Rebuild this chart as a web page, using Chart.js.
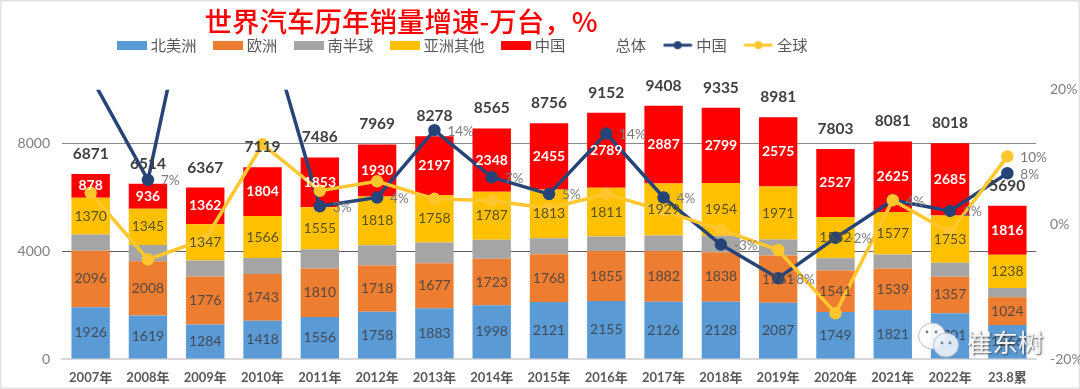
<!DOCTYPE html>
<html><head><meta charset="utf-8">
<style>html,body{margin:0;padding:0;background:#fff}canvas{display:block}</style>
<script src="https://cdn.jsdelivr.net/npm/chart.js@4"></script></head>
<body><canvas id="c" width="1080" height="389"></canvas>
<script>
const categories=['2007年','2008年','2009年','2010年','2011年','2012年','2013年','2014年','2015年','2016年','2017年','2018年','2019年','2020年','2021年','2022年','23.8累'];
const northAmerica=[1926,1619,1284,1418,1556,1758,1883,1998,2121,2155,2126,2128,2087,1749,1821,1701,1266];
const europe=[2096,2008,1776,1743,1810,1718,1677,1723,1768,1855,1882,1838,1761,1541,1539,1357,1024];
const southern=[601,606,598,588,712,745,763,709,599,542,584,616,587,454,519,522,346];
const asiaOther=[1370,1345,1347,1566,1555,1818,1758,1787,1813,1811,1929,1954,1971,1532,1577,1753,1238];
const china=[878,936,1362,1804,1853,1930,2197,2348,2455,2789,2887,2799,2575,2527,2625,2685,1816];
const totals=[6871,6514,6367,7119,7486,7969,8278,8565,8756,9152,9408,9335,8981,7803,8081,8018,5690];
const chinaGrowth=[22,6.6,46,32,2.7,4,14,7,4.5,13.5,4,-3,-8,-2,3.6,2,7.6];
const globalGrowth=[4.7,-5.2,-2.2,11.9,5,6.4,3.8,3.5,2.4,4.5,2,-0.8,-3.8,-13.2,3.6,-1.2,10.1];
const leftTicks=[0,4000,8000];
const rightTicks=[-20,0,20];
const titleText='世界汽车历年销量增速-万台，%';
const CJK='"Noto Sans CJK SC"';
const NUM='Lato,'+CJK;

function swatch(color,isLine){
  const s=document.createElement('canvas');s.width=30;s.height=isLine?10:9;
  const x=s.getContext('2d');
  if(color&&!isLine){x.fillStyle=color;x.fillRect(0,0,30,9);}
  if(color&&isLine){x.strokeStyle=color;x.lineWidth=3;x.lineCap='round';x.beginPath();x.moveTo(2,5);x.lineTo(28,5);x.stroke();
    x.fillStyle=color;x.beginPath();x.arc(15,5,4,0,7);x.fill();}
  return s;
}
const barDs=(label,data,color,tc,bold)=>({type:'bar',label,data,backgroundColor:color,stack:'s',yAxisID:'y',order:3,barPercentage:.67,categoryPercentage:1,
  labelColor:tc,labelBold:bold,legendSwatch:swatch(color,false)});
const lineDs=(label,data,color,order)=>({type:'line',label,data,borderColor:color,backgroundColor:color,borderWidth:3.5,pointRadius:4.5,pointHoverRadius:4.5,yAxisID:'y1',order,tension:0,clip:0,legendSwatch:swatch(color,true)});

const labelPlugin={id:'labels',
  afterLayout(chart){
    const t=chart.titleBlock,l=chart.legend;
    const w=t.right-t.left,h=t.bottom-t.top;
    t.left=401-w/2;t.right=t.left+w;t.top=5;t.bottom=5+h;
    const lh=l.bottom-l.top;l.left=100.5;l.top=17;l.bottom=17+lh;
  },
  beforeDraw(chart){
    const c=chart.ctx;c.save();c.fillStyle='#fff';c.fillRect(0,0,1080,389);
    c.strokeStyle='#e2e2e2';c.lineWidth=2;c.strokeRect(0.5,0.5,1079,388);c.restore();
  },
  afterDatasetsDraw(chart){
    const c=chart.ctx;c.save();c.textBaseline='middle';
    chart.data.datasets.forEach((ds,di)=>{
      const m=chart.getDatasetMeta(di);
      if(ds.type==='bar'&&ds.labelColor){
        c.textAlign='center';c.fillStyle=ds.labelColor;c.font=(ds.labelBold?'bold 14px ':'14px ')+NUM;
        m.data.forEach((el,i)=>c.fillText(String(ds.data[i]),el.x,(el.y+el.base)/2));
      }
      if(ds.isTotal){
        c.textAlign='center';c.fillStyle='#404040';c.font='bold 15.5px '+NUM;
        m.data.forEach((p,i)=>c.fillText(String(ds.data[i]),p.x,p.y-20));
      }
      if(ds.type==='line'&&!ds.isTotal){
        c.textAlign='left';c.fillStyle='#7a7a7a';c.font='13.5px '+NUM;
        m.data.forEach((p,i)=>{
          if(ds.data[i]>20)return;
          if(ds.label==='全球'&&i!==ds.data.length-1)return;
          c.fillText(Math.round(ds.data[i])+'%',p.x+13,p.y+1);
        });
      }
    });
    c.globalAlpha=.92;
    c.strokeStyle='#b8bcc0';c.lineWidth=1;
    c.fillStyle='#fff';c.beginPath();c.ellipse(932,336,13.5,13,0,0,7);c.fill();c.stroke();
    c.fillStyle='#e8f0f8';c.beginPath();c.ellipse(946,345,12.5,12,0,0,7);c.fill();c.stroke();
    c.fillStyle='#6a7580';[[927,332],[936,332],[942,343],[950,343]].forEach(a=>{c.beginPath();c.arc(a[0],a[1],1.4,0,7);c.fill();});
    c.globalAlpha=1;
    c.textAlign='left';c.font='25.5px '+CJK;c.shadowColor='rgba(60,60,60,.9)';c.shadowBlur=2;c.shadowOffsetX=1;c.shadowOffsetY=1;
    c.fillStyle='#f4f4f4';c.fillText('崔东树',967,342);
    c.restore();
  }
};

const totalDs={type:'line',label:'总体',data:totals,isTotal:true,borderColor:'rgba(0,0,0,0)',backgroundColor:'rgba(0,0,0,0)',pointRadius:0,showLine:false,yAxisID:'y',stack:'t',order:2,legendSwatch:swatch(null,false)};

new Chart(document.getElementById('c'),{
  data:{labels:categories,datasets:[
    barDs('北美洲',northAmerica,'#5B9BD5','#404a58',false),
    barDs('欧洲',europe,'#ED7D31','#5a4a42',false),
    barDs('南半球',southern,'#A5A5A5',null,false),
    barDs('亚洲其他',asiaOther,'#FFC000','#5e5320',false),
    barDs('中国',china,'#FF0000','#ffffff',true),
    totalDs,
    lineDs('中国',chinaGrowth,'#264478',1),
    lineDs('全球',globalGrowth,'#FFC62E',0)
  ]},
  options:{responsive:false,animation:false,devicePixelRatio:1,
    layout:{padding:{top:11,left:0,right:0,bottom:0}},
    plugins:{
      tooltip:{enabled:false},
      title:{display:true,text:titleText,color:'#FF0000',font:{family:CJK,size:27.5,weight:'500'},padding:0},
      legend:{display:true,position:'top',align:'start',
        labels:{usePointStyle:true,pointStyleWidth:22,boxHeight:15,padding:20.5,color:'#595959',font:{family:CJK,size:15.3},
          generateLabels:(chart)=>chart.data.datasets.map((d,i)=>({text:d.label,pointStyle:d.legendSwatch,fillStyle:'rgba(0,0,0,0)',strokeStyle:'rgba(0,0,0,0)',lineWidth:0,hidden:false,datasetIndex:i,fontColor:'#595959'}))}
      }
    },
    scales:{
      x:{stacked:true,offset:true,grid:{display:false},border:{display:true,color:'#d9d9d9',width:2},
        ticks:{color:'#595959',font:{family:NUM,size:13,weight:'bold'},padding:3,maxRotation:0,autoSkip:false},
        afterFit(s){s.height=30;}},
      y:{stacked:true,min:0,max:10000,position:'left',
        grid:{color:ctx=>ctx.tick.value===8000?'#8c8c8c':ctx.tick.value===4000?'#5f5f5f':'rgba(0,0,0,0)',lineWidth:1,drawTicks:false},border:{display:false},
        ticks:{color:'#7f7f7f',font:{family:NUM,size:14},padding:12,callback:v=>String(v)},
        afterBuildTicks(s){s.ticks=leftTicks.map(value=>({value}));},
        afterFit(s){s.width=62;}},
      y1:{min:-20,max:20,position:'right',grid:{display:false,drawTicks:false},border:{display:false},
        ticks:{color:'#7f7f7f',font:{family:NUM,size:14},padding:14,callback:v=>v+'%'},
        afterBuildTicks(s){s.ticks=rightTicks.map(value=>({value}));},
        afterFit(s){s.width=44;}}
    }
  },
  plugins:[labelPlugin]
});
</script></body></html>
